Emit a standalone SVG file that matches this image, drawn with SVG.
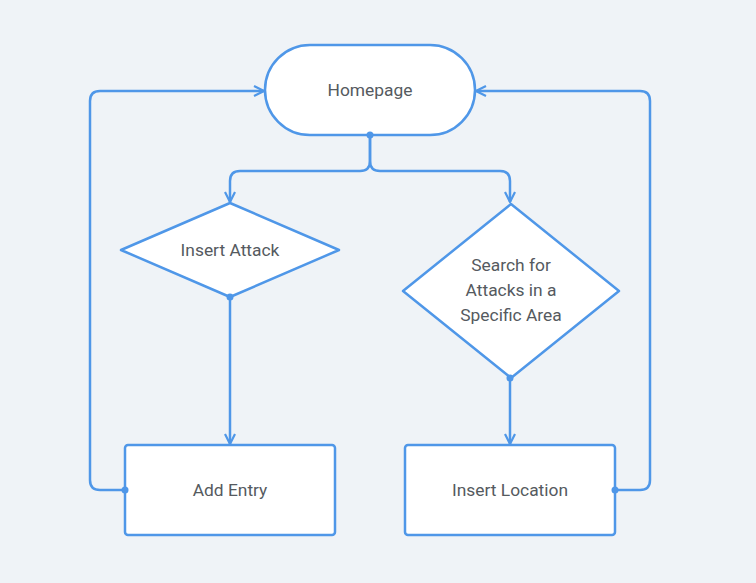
<svg xmlns="http://www.w3.org/2000/svg" width="756" height="583" viewBox="0 0 756 583">
<defs>
<style>
.n{fill:#fff;stroke:#4f97e8;stroke-width:2.5}
.t{font-family:Roboto,"Liberation Sans",sans-serif;font-size:17.4px;fill:#555a60;text-anchor:middle;dominant-baseline:central}
.c{fill:none;stroke:#4f97e8;stroke-width:2.5;stroke-linejoin:round}
.d{fill:#4f97e8}
</style>
<marker id="a" viewBox="0 0 12 12" refX="11" refY="6" markerWidth="12" markerHeight="12" markerUnits="userSpaceOnUse" orient="auto">
<path d="M1,1 L11,6 L1,11" fill="none" stroke="#4f97e8" stroke-width="2.2"/>
</marker>
</defs>
<rect width="756" height="583" fill="#eff3f7"/>
<g id="homepage">
<rect class="n" x="265" y="45" width="210" height="90" rx="45"/>
<text class="t" x="370" y="90">Homepage</text>
</g>
<g id="insert-attack">
<path class="n" d="M230,203 L339,250 L230,297 L121,250 Z" stroke-linejoin="round"/>
<text class="t" x="230" y="250">Insert Attack</text>
</g>
<g id="search">
<path class="n" d="M511,204 L619,291 L511,378 L403,291 Z" stroke-linejoin="round"/>
<text class="t" x="511" y="265">Search for</text>
<text class="t" x="511" y="290">Attacks in a</text>
<text class="t" x="511" y="315">Specific Area</text>
</g>
<g id="add-entry">
<rect class="n" x="125" y="445" width="210" height="90" rx="3"/>
<text class="t" x="230" y="490">Add Entry</text>
</g>
<g id="insert-location">
<rect class="n" x="405" y="445" width="210" height="90" rx="3"/>
<text class="t" x="510" y="490">Insert Location</text>
</g>
<g id="connectors">
<path class="c" d="M370,135 V161 Q370,171 360,171 H240 Q230,171 230,181 V202" marker-end="url(#a)"/>
<path class="c" d="M370,135 V161 Q370,171 380,171 H500 Q510,171 510,181 V202" marker-end="url(#a)"/>
<path class="c" d="M230,297 V444" marker-end="url(#a)"/>
<path class="c" d="M510,378 V444" marker-end="url(#a)"/>
<path class="c" d="M125,490 H100 Q90,490 90,480 V101 Q90,91 100,91 H264" marker-end="url(#a)"/>
<path class="c" d="M615,490 H640 Q650,490 650,480 V101 Q650,91 640,91 H476" marker-end="url(#a)"/>
<circle class="d" cx="370" cy="135" r="3.5"/>
<circle class="d" cx="230" cy="297" r="3.5"/>
<circle class="d" cx="510" cy="378" r="3.5"/>
<circle class="d" cx="125" cy="490" r="3.5"/>
<circle class="d" cx="615" cy="490" r="3.5"/>
</g>
</svg>
